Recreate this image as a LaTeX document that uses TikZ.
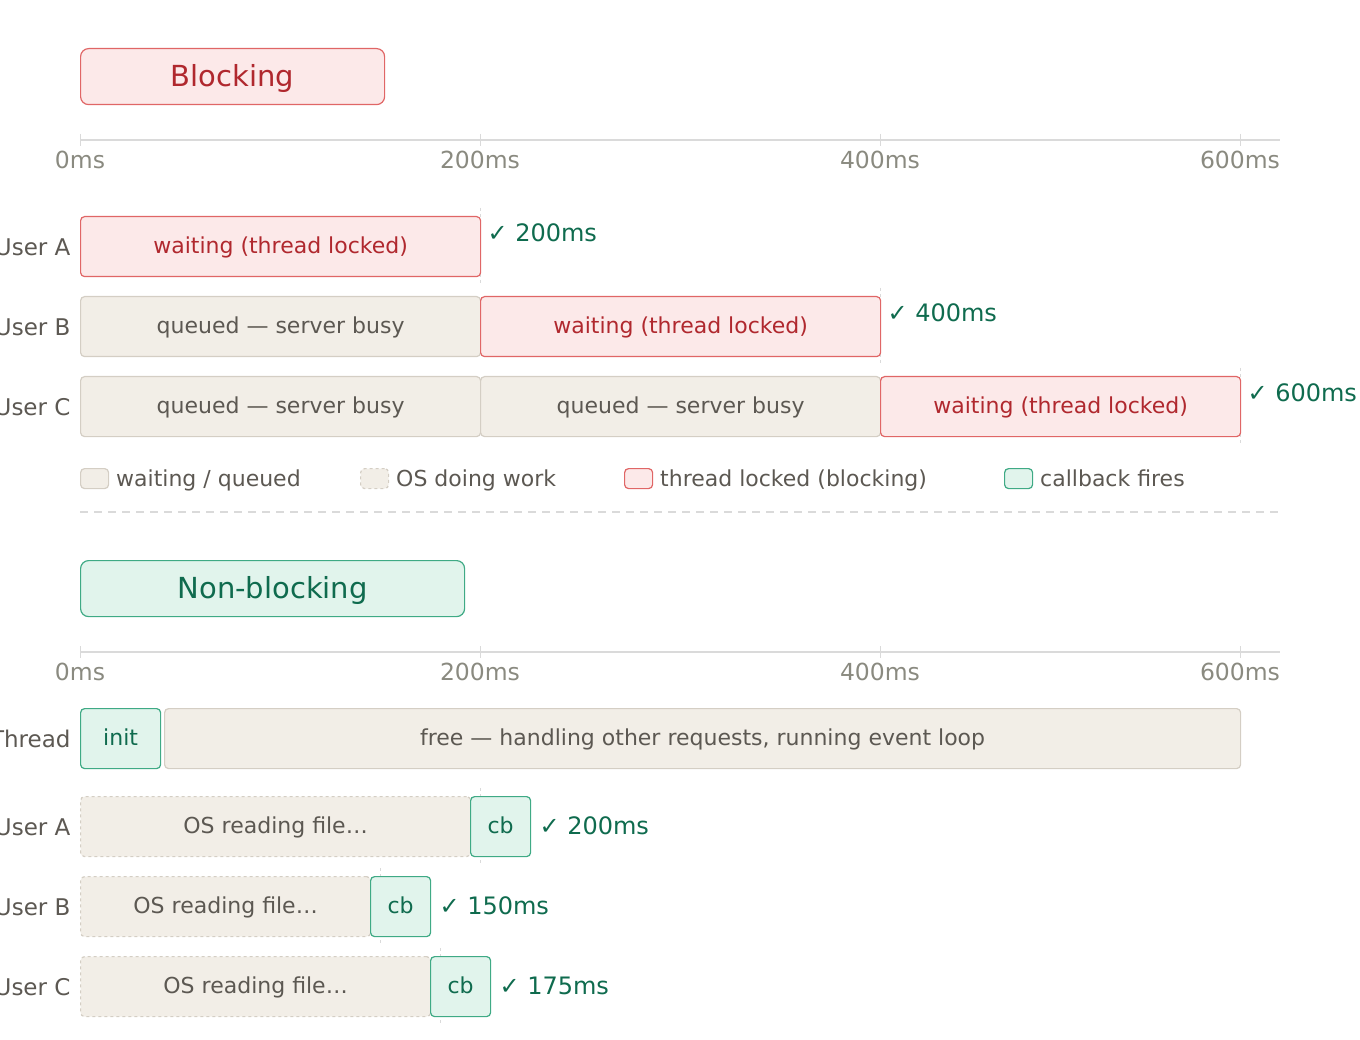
\documentclass[tikz,border=0pt]{standalone}
\usepackage{fontspec}
\setmainfont{DejaVu Sans}
\definecolor{rfill}{HTML}{FCE9E9}\definecolor{rdraw}{HTML}{E06666}\definecolor{rtext}{HTML}{B0282E}
\definecolor{bfill}{HTML}{F2EEE7}\definecolor{bdraw}{HTML}{D4CEC4}\definecolor{btext}{HTML}{5C5852}
\definecolor{gfill}{HTML}{E1F4EC}\definecolor{gdraw}{HTML}{3FAA85}\definecolor{gtext}{HTML}{0F6B4E}
\definecolor{axc}{HTML}{DADADA}\definecolor{axt}{HTML}{8A8A80}
\newcommand\fs[1]{\fontsize{#1}{#1}\selectfont}
\newcommand\tb[7]{\node[#6,anchor=north west,minimum width=#4-#2,minimum height=#5-#3] (#1) at (#2,#3) {#7};}
\begin{document}
\begin{tikzpicture}[x=1pt,y=-1pt,
 bar/.style={rounded corners=4pt,inner sep=0,font=\fs{22},line width=1.2pt,text height=14pt,text depth=0pt},
 red/.style={bar,fill=rfill,draw=rdraw,text=rtext},
 beige/.style={bar,fill=bfill,draw=bdraw,text=btext},
 os/.style={beige,dashed},
 green/.style={bar,fill=gfill,draw=gdraw,text=gtext},
 title/.style={rounded corners=8pt,inner sep=0,font=\fs{29},line width=1.2pt,text height=20pt,text depth=0pt},
 ax/.style={text=axt,font=\fs{23.5}},
 rl/.style={anchor=east,text=btext,font=\fs{23}},
 ok/.style={anchor=west,text=gtext,font=\fs{24}},
 endmark/.style={draw=axc,dashed,line width=0.8pt},
 lg/.style={anchor=west,text=btext,font=\fs{22},inner sep=0,text height=14pt,text depth=0pt}]
\useasboundingbox (0,0) rectangle (1360,1040);
% Blocking
\tb{bt}{80}{48}{384}{104}{title,fill=rfill,draw=rdraw,text=rtext}{Blocking}
\draw[axc,line width=1.2pt] (80,140) coordinate(a0) -- (1280,140) coordinate(a1);
\foreach \x/\t in {80/0ms,480/200ms,880/400ms,1240/600ms}{\draw[axc] (\x,134)--(\x,146); \node[ax] at (\x,160) {\t};}
\draw[endmark] (480,208)--(480,284); \draw[endmark] (880,288)--(880,364); \draw[endmark] (1240,368)--(1240,444);
\tb{a1}{80}{216}{480}{276}{red}{waiting (thread locked)}
\tb{b1}{80}{296}{480}{356}{beige}{queued — server busy}
\tb{b2}{480}{296}{880}{356}{red}{waiting (thread locked)}
\tb{c1}{80}{376}{480}{436}{beige}{queued — server busy}
\tb{c2}{480}{376}{880}{436}{beige}{queued — server busy}
\tb{c3}{880}{376}{1240}{436}{red}{waiting (thread locked)}
\node[rl] (la) at (74,247) {User A};
\node[rl] (lb) at (74,327) {User B};
\node[rl] (lc) at (74,407) {User C};
\node[ok] (oa) at (484,233) {✓ 200ms};
\node[ok] (ob) at (884,313) {✓ 400ms};
\node[ok] (oc) at (1244,393) {✓ 600ms};
% legend
\tb{l1}{80}{468}{108}{488}{beige}{}
\node[lg] at (116,479) {waiting / queued};
\tb{l2}{360}{468}{388}{488}{os}{}
\node[lg] at (396,479) {OS doing work};
\tb{l3}{624}{468}{652}{488}{red}{}
\node[lg] at (660,479) {thread locked (blocking)};
\tb{l4}{1004}{468}{1032}{488}{green}{}
\node[lg] at (1040,479) {callback fires};
\draw[axc,dash pattern=on 8pt off 6pt,line width=1.2pt] (80,512)--(1280,512);
% Non-blocking
\tb{nt}{80}{560}{464}{616}{title,fill=gfill,draw=gdraw,text=gtext}{Non-blocking}
\draw[axc,line width=1.2pt] (80,652) -- (1280,652);
\foreach \x/\t in {80/0ms,480/200ms,880/400ms,1240/600ms}{\draw[axc] (\x,646)--(\x,658); \node[ax] at (\x,672) {\t};}
\draw[endmark] (480,788)--(480,864); \draw[endmark] (380,868)--(380,944); \draw[endmark] (440,948)--(440,1024);
\tb{ti}{80}{708}{160}{768}{green}{init}
\tb{tf}{164}{708}{1240}{768}{beige}{free — handling other requests, running event loop}
\tb{oa1}{80}{796}{470}{856}{os}{OS reading file…}
\tb{ca}{470}{796}{530}{856}{green}{cb}
\tb{ob1}{80}{876}{370}{936}{os}{OS reading file…}
\tb{cbb}{370}{876}{430}{936}{green}{cb}
\tb{oc1}{80}{956}{430}{1016}{os}{OS reading file…}
\tb{ccc}{430}{956}{490}{1016}{green}{cb}
\node[rl] at (74,739) {Thread};
\node[rl] at (74,827) {User A};
\node[rl] at (74,907) {User B};
\node[rl] at (74,987) {User C};
\node[ok] at (536,826) {✓ 200ms};
\node[ok] at (436,906) {✓ 150ms};
\node[ok] at (496,986) {✓ 175ms};
\end{tikzpicture}
\end{document}
